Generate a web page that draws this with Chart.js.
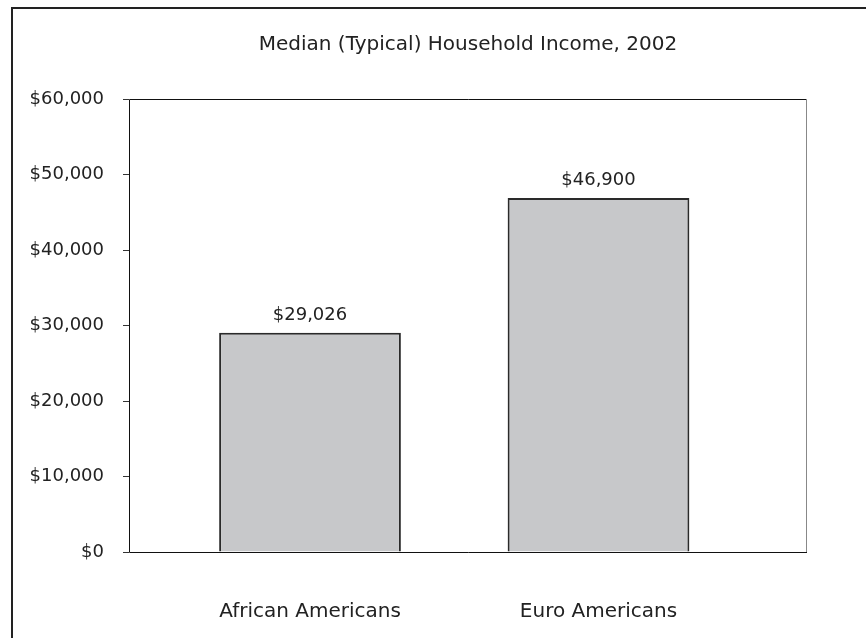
<!DOCTYPE html>
<html>
<head>
<meta charset="utf-8">
<script src="https://cdn.jsdelivr.net/npm/chart.js@4"></script>
<style>
  html, body { margin: 0; padding: 0; background: #fff; }
  #wrap { position: relative; width: 866px; height: 638px; overflow: hidden; }
  #frame {
    position: absolute; left: 11px; top: 7px; width: 900px; height: 700px;
    border-left: 2px solid #222; border-top: 2px solid #222;
  }
  canvas { position: absolute; left: 0; top: 0; }
</style>
</head>
<body>
<div id="wrap">
  <div id="frame"></div>
  <canvas id="incomeChart" width="866" height="638"></canvas>
</div>
<script>
const categories = ['African Americans', 'Euro Americans'];
const incomeValues = [29026, 46900];
const yTicks = [0, 10000, 20000, 30000, 40000, 50000, 60000];
const chartTitle = 'Median (Typical) Household Income, 2002';

const fontFamily = '"DejaVu Sans", sans-serif';
const textColor = '#222';

function money(v) {
  return '$' + Number(v).toLocaleString('en-US');
}

// plot frame: black top/left/bottom, grey right
const framePlugin = {
  id: 'plotFrame',
  afterDraw(chart) {
    const { ctx, chartArea: a } = chart;
    ctx.save();
    ctx.lineWidth = 1;
    ctx.strokeStyle = '#111';
    ctx.beginPath();
    ctx.moveTo(a.right, a.top + 0.5);
    ctx.lineTo(a.left + 0.5, a.top + 0.5);
    ctx.lineTo(a.left + 0.5, a.bottom + 0.5);
    ctx.lineTo(a.right, a.bottom + 0.5);
    ctx.stroke();
    ctx.strokeStyle = '#888';
    ctx.beginPath();
    ctx.moveTo(a.right - 0.5, a.top);
    ctx.lineTo(a.right - 0.5, a.bottom);
    ctx.stroke();
    ctx.restore();
  }
};

// title centred over the plot area, not the whole canvas
const titlePlugin = {
  id: 'plotTitle',
  afterDraw(chart) {
    const { ctx, chartArea: a } = chart;
    ctx.save();
    ctx.font = '20px ' + fontFamily;
    ctx.fillStyle = textColor;
    ctx.textAlign = 'center';
    ctx.textBaseline = 'middle';
    ctx.fillText(chartTitle, (a.left + a.right) / 2, 45);
    ctx.restore();
  }
};

// value labels above the bars
const valueLabels = {
  id: 'valueLabels',
  afterDatasetsDraw(chart) {
    const { ctx } = chart;
    const meta = chart.getDatasetMeta(0);
    ctx.save();
    ctx.font = '18px ' + fontFamily;
    ctx.fillStyle = textColor;
    ctx.textAlign = 'center';
    ctx.textBaseline = 'bottom';
    meta.data.forEach((bar, i) => {
      ctx.fillText(money(incomeValues[i]), bar.x, bar.y - 9);
    });
    ctx.restore();
  }
};

const ctx = document.getElementById('incomeChart').getContext('2d');
const chart = new Chart(ctx, {
  type: 'bar',
  data: {
    datasets: [{
      data: incomeValues.map((v, i) => ({ x: i + 1, y: v })),
      backgroundColor: '#c7c8ca',
      borderColor: '#2a2a2a',
      borderWidth: 2,
      barPercentage: 1,
      categoryPercentage: 0.63
    }]
  },
  options: {
    responsive: false,
    animation: false,
    layout: { padding: { left: 0, right: 59, top: 99, bottom: 0 } },
    plugins: {
      legend: { display: false },
      tooltip: { enabled: false },
      title: { display: false }
    },
    scales: {
      x: {
        type: 'linear',
        offset: false,
        min: 0.3726,
        max: 2.7227,
        afterBuildTicks(scale) {
          scale.ticks = categories.map((c, i) => ({ value: i + 1 }));
        },
        afterFit(scale) { scale.height = 86; },
        grid: { display: false, offset: false },
        border: { display: false },
        ticks: {
          color: textColor,
          font: { family: fontFamily, size: 20 },
          padding: 40,
          maxRotation: 0,
          autoSkip: false,
          callback: (v) => categories[v - 1]
        }
      },
      y: {
        min: 0,
        max: 60000,
        afterBuildTicks(scale) {
          scale.ticks = yTicks.map(v => ({ value: v }));
        },
        afterFit(scale) { scale.width = 129; },
        grid: {
          drawOnChartArea: false,
          drawTicks: true,
          tickLength: 6,
          tickColor: '#333'
        },
        border: { display: false },
        ticks: {
          color: textColor,
          font: { family: fontFamily, size: 18 },
          padding: 19,
          callback: (v) => money(v)
        }
      }
    }
  },
  plugins: [framePlugin, titlePlugin, valueLabels]
});
</script>
</body>
</html>
